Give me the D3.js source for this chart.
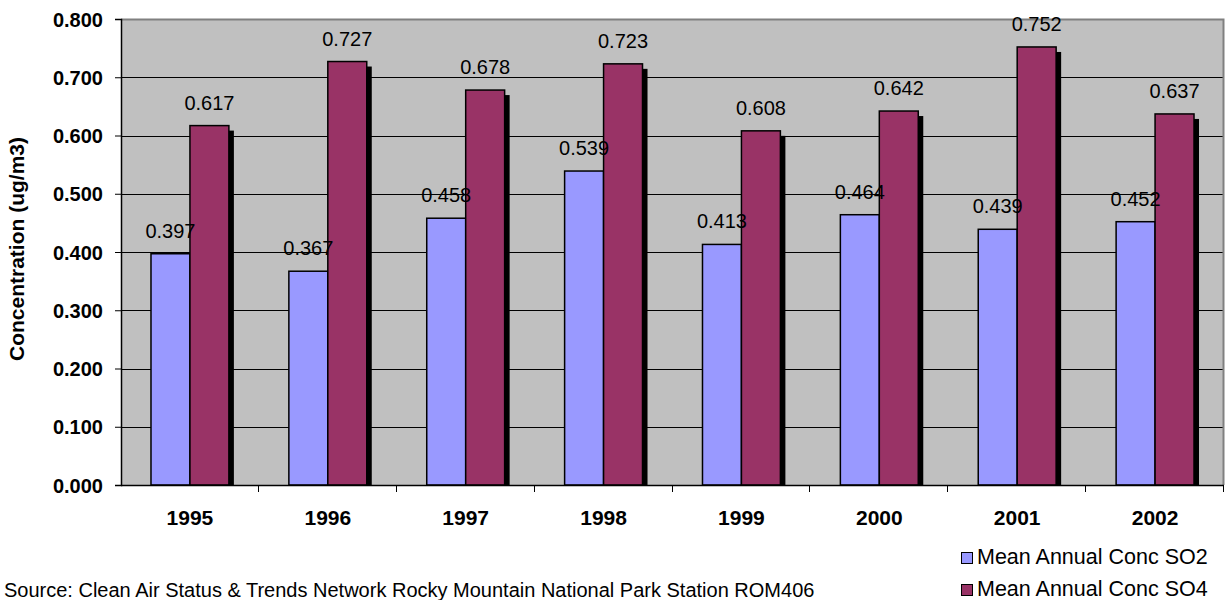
<!DOCTYPE html>
<html>
<head>
<meta charset="utf-8">
<script src="https://cdn.jsdelivr.net/npm/d3@7"></script>
<style>
  html, body { margin: 0; padding: 0; background: #ffffff; }
  svg { display: block; font-family: "Liberation Sans", Arial, sans-serif; }
</style>
</head>
<body>
<svg id="chart" width="1225" height="600"></svg>
<script>
// Annual mean concentrations, Rocky Mountain NP station
const years = ["1995", "1996", "1997", "1998", "1999", "2000", "2001", "2002"];
const so2 = [0.397, 0.367, 0.458, 0.539, 0.413, 0.464, 0.439, 0.452];
const so4 = [0.617, 0.727, 0.678, 0.723, 0.608, 0.642, 0.752, 0.637];
const seriesNames = ["Mean Annual Conc SO2", "Mean Annual Conc SO4"];
const seriesColors = ["#9999FF", "#993366"];
const yTicks = [0, 0.1, 0.2, 0.3, 0.4, 0.5, 0.6, 0.7, 0.8];
const yTitle = "Concentration (ug/m3)";
const sourceNote = "Source: Clean Air Status & Trends Network Rocky Mountain National Park Station ROM406";

const series = [so2, so4];
const svg = d3.select("#chart");

const plot = { left: 121, top: 19, right: 1224, bottom: 485 };

const x0 = d3.scaleBand().domain(years).range([plot.left, plot.right]).paddingInner(0).paddingOuter(0);
const x1 = d3.scaleBand().domain(d3.range(series.length)).range([0, x0.bandwidth()]).paddingInner(0).paddingOuter(0.77);
const y = d3.scaleLinear().domain([0, 0.8]).range([plot.bottom, plot.top]);

// plot area background
svg.append("rect")
  .attr("x", plot.left).attr("y", plot.top)
  .attr("width", plot.right - plot.left).attr("height", plot.bottom - plot.top)
  .attr("fill", "#C0C0C0");

// horizontal gridlines
svg.append("g").selectAll("line")
  .data(yTicks.filter(t => t > 0 && t < 0.8))
  .join("line")
  .attr("x1", plot.left).attr("x2", plot.right)
  .attr("y1", d => Math.round(y(d)) + 0.5).attr("y2", d => Math.round(y(d)) + 0.5)
  .attr("stroke", "#000").attr("stroke-width", 1);

// plot frame (top and right)
svg.append("path")
  .attr("d", `M${plot.left},${plot.top + 0.5}H${plot.right - 0.5}V${plot.bottom}`)
  .attr("fill", "none").attr("stroke", "#808080").attr("stroke-width", 2);

svg.append("clipPath").attr("id", "plotclip")
  .append("rect").attr("x", plot.left).attr("y", 0)
  .attr("width", plot.right - plot.left + 10).attr("height", plot.bottom);

const barsG = svg.append("g").attr("clip-path", "url(#plotclip)");
const shadowOff = 5;

series.forEach((vals, si) => {
  const g = barsG.append("g");
  // drop shadow
  g.selectAll("rect.shadow")
    .data(vals)
    .join("rect")
    .attr("class", "shadow")
    .attr("x", (d, i) => x0(years[i]) + x1(si) + shadowOff)
    .attr("y", d => y(d) + shadowOff)
    .attr("width", x1.bandwidth())
    .attr("height", d => plot.bottom - y(d))
    .attr("fill", "#000");
  // bar
  g.selectAll("rect.bar")
    .data(vals)
    .join("rect")
    .attr("class", "bar")
    .attr("x", (d, i) => x0(years[i]) + x1(si))
    .attr("y", d => y(d))
    .attr("width", x1.bandwidth())
    .attr("height", d => plot.bottom - y(d))
    .attr("fill", seriesColors[si])
    .attr("stroke", "#000").attr("stroke-width", 1.5);
});

// value labels
series.forEach((vals, si) => {
  svg.append("g").selectAll("text")
    .data(vals)
    .join("text")
    .attr("x", (d, i) => x0(years[i]) + x1(si) + x1.bandwidth() / 2)
    .attr("y", d => y(d) - 16)
    .attr("text-anchor", "middle")
    .attr("font-size", 20)
    .attr("fill", "#000")
    .text(d => d3.format(".3f")(d));
});

// y axis
const yAxis = d3.axisLeft(y).tickValues(yTicks).tickFormat(d3.format(".3f")).tickSize(6).tickPadding(12);
const yg = svg.append("g").attr("transform", `translate(${plot.left},0)`).call(yAxis);
yg.select(".domain").attr("stroke", "#000").attr("stroke-width", 1.5);
yg.selectAll(".tick line").attr("stroke", "#000");
yg.selectAll(".tick text")
  .attr("font-family", "Liberation Sans, Arial, sans-serif")
  .attr("font-size", 20).attr("font-weight", "bold").attr("fill", "#000")
  .attr("dy", "0.36em");

// x axis
const xg = svg.append("g").attr("transform", `translate(0,${plot.bottom})`);
xg.append("line").attr("x1", plot.left).attr("x2", plot.right)
  .attr("y1", 0.5).attr("y2", 0.5).attr("stroke", "#000").attr("stroke-width", 1.5);
xg.selectAll("line.tick")
  .data(years.slice(1).concat(["end"]))
  .join("line")
  .attr("class", "tick")
  .attr("x1", (d, i) => Math.round(plot.left + x0.step() * (i + 1)) - 0.5)
  .attr("x2", (d, i) => Math.round(plot.left + x0.step() * (i + 1)) - 0.5)
  .attr("y1", 0).attr("y2", 7)
  .attr("stroke", "#000");
xg.selectAll("text")
  .data(years)
  .join("text")
  .attr("x", d => x0(d) + x0.bandwidth() / 2)
  .attr("y", 40)
  .attr("text-anchor", "middle")
  .attr("font-size", 21).attr("font-weight", "bold").attr("fill", "#000")
  .text(d => d);

// y axis title
svg.append("text")
  .attr("transform", `translate(24,${(plot.top + plot.bottom) / 2 - 3}) rotate(-90)`)
  .attr("text-anchor", "middle")
  .attr("font-size", 21).attr("font-weight", "bold").attr("fill", "#000")
  .text(yTitle);

// legend
const legend = svg.append("g").attr("transform", "translate(961,552)");
seriesNames.forEach((name, i) => {
  const row = legend.append("g").attr("transform", `translate(0,${i * 32})`);
  row.append("rect").attr("x", 0.5).attr("y", 0.5).attr("width", 11).attr("height", 11)
    .attr("fill", seriesColors[i]).attr("stroke", "#000").attr("stroke-width", 1);
  row.append("text").attr("x", 16).attr("y", 11.5)
    .attr("font-size", 21.5).attr("fill", "#000").text(name);
});

// source note
svg.append("text")
  .attr("x", 4).attr("y", 597)
  .attr("font-size", 20).attr("fill", "#000")
  .text(sourceNote);
</script>
</body>
</html>
